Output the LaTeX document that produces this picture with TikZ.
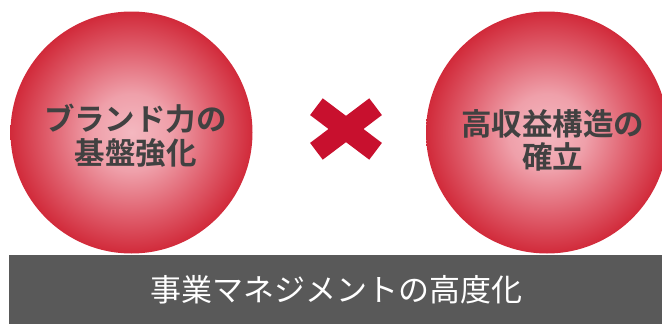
\documentclass[tikz,border=0pt]{standalone}
\usepackage{fontspec}
\newfontfamily\cjk{Noto Sans CJK JP}[BoldFont={Noto Sans CJK JP Bold}]
\definecolor{c0}{HTML}{F4B8C0}
\definecolor{c1}{HTML}{EFA0AA}
\definecolor{c2}{HTML}{E0606E}
\definecolor{c3}{HTML}{D12A3A}
\definecolor{c4}{HTML}{C61220}
\definecolor{c5}{HTML}{B80816}
\definecolor{c6}{HTML}{AC0612}
\definecolor{xred}{HTML}{C8102E}
\definecolor{bargray}{HTML}{595959}
\definecolor{txtgray}{HTML}{414141}
\pgfdeclareradialshading{ball}{\pgfpoint{0bp}{0bp}}{color(0bp)=(c0); color(8bp)=(c1); color(17bp)=(c2); color(25bp)=(c3); color(31bp)=(c4); color(34bp)=(c5); color(35.4bp)=(c6); color(50bp)=(c6)}
\tikzset{
  ballshape/.style={circle, shading=ball, minimum size=242pt, inner sep=0pt},
  balltext/.style={font=\cjk\bfseries\fontsize{30.5}{34}\selectfont, text=txtgray, align=center, inner sep=0pt},
  barbox/.style={fill=bargray, draw=none, inner sep=0pt},
  bartext/.style={font=\cjk\fontsize{31}{34}\selectfont, text=white, inner sep=0pt},
  xarm/.style={draw=xred, line width=21pt, line cap=butt}
}
\begin{document}
\begin{tikzpicture}[x=1pt,y=-1pt]
\useasboundingbox (0,0) rectangle (662,324);
\begin{scope}
\clip (0,0) rectangle (662,324);
\node[ballshape] (lb) at (131.5,132.5) {};
\node[ballshape] (rb) at (547,132.5) {};
\end{scope}
\node[balltext] (lt1) at (135.5,119) {ブランド力の};
\node[balltext] (lt2) at (135.5,153) {基盤強化};
\node[balltext] (rt1) at (552.5,124) {高収益構造の};
\node[balltext] (rt2) at (552.5,157) {確立};
\coordinate (xc) at (346,129);
\coordinate (xa) at (316.4,106.7);
\coordinate (xb) at (375.6,151.3);
\coordinate (xd) at (316.4,151.3);
\coordinate (xe) at (375.6,106.7);
\draw[xarm] (xa) -- (xb);
\draw[xarm] (xd) -- (xe);
\path[barbox] (9,255) rectangle (662,324);
\node[bartext] (bt) at (336,290) {事業マネジメントの高度化};
\end{tikzpicture}
\end{document}
